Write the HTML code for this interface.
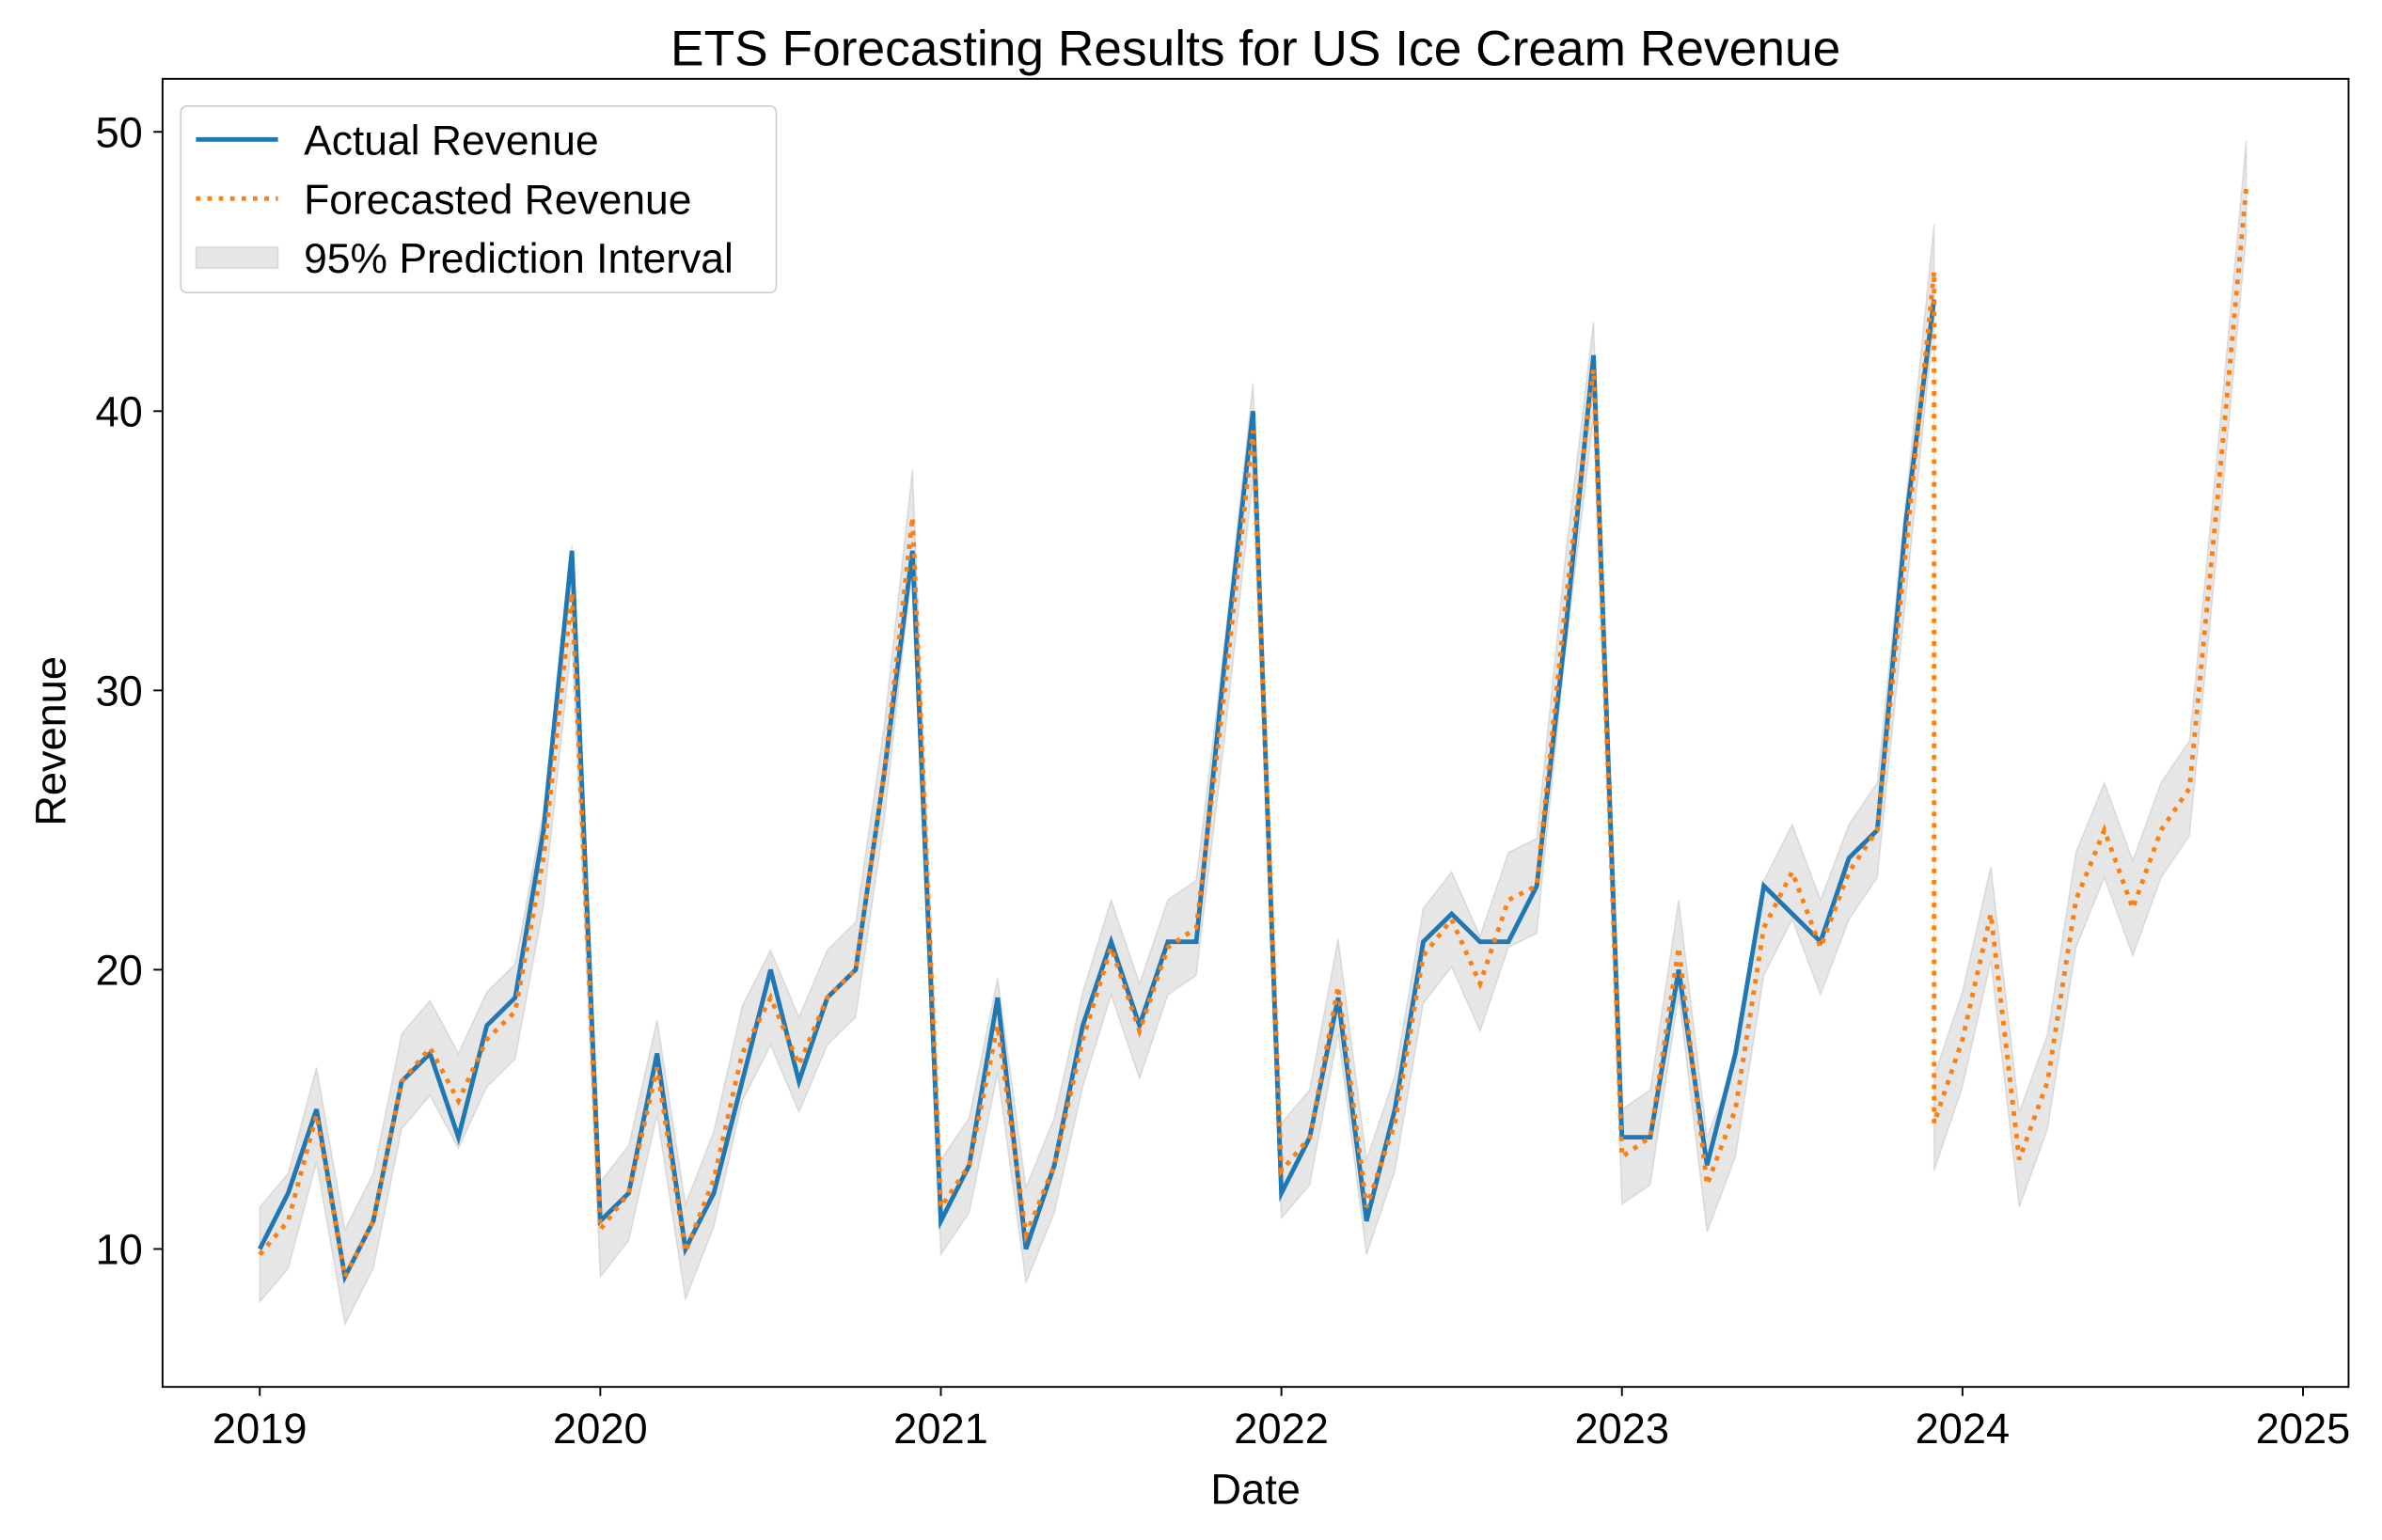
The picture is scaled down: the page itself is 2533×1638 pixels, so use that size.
<!DOCTYPE html>
<html><head><meta charset="utf-8"><style>
html,body{margin:0;padding:0;background:#fff;}
svg{display:block;font-family:"Liberation Sans","DejaVu Sans",sans-serif;}
</style></head><body>
<svg id="chart" width="2533" height="1638" viewBox="0 0 1568 1016" preserveAspectRatio="none" xmlns="http://www.w3.org/2000/svg">
<rect x="0" y="0" width="1568" height="1016" fill="#fff"/>
<g id="plot"></g>
</svg>
<script>
const years = [2019,2020,2021,2022,2023,2024,2025];
const yTicks = [10,20,30,40,50];
const actual = [10,12,15,9,11,16,17,14,18,19,25,35,
 11,12,17,10,12,16,20,16,19,20,27,35,
 11,13,19,10,13,18,21,18,21,21,31,40,
 12,14,19,11,15,21,22,21,21,23,32,42,
 14,14,20,13,17,23,22,21,24,25,36,44];
const fitted = [9.8,11,14.8,9,11,16,17.2,15.3,17.5,18.5,24,33.5,
 10.7,12,16.5,9.9,12.5,17,19,16.6,19,20,27,36.2,
 11.5,13,18,10.5,13,17.5,20.8,17.8,20.8,21.5,30,39.3,
 12.8,14,19.4,11.5,14.5,20.5,21.8,19.5,22.5,23,33,41.5,
 13.3,14,20.8,12.3,15,21.5,23.5,20.8,23.5,25,35,45];
const forecast = [14.5,17.5,22,13.2,16,22.5,25,22.2,25,26.5,37,48];
const forecastStart = 59;
const intervalHalfWidth = 1.7;

const NS="http://www.w3.org/2000/svg";
const L=107,R=1546,T=52,B=915;
function xm(i){return 171+i*(1516-171)/72;}
function yv(v){return 824-(v-10)*(824-87)/40;}
const g=document.getElementById('plot');
function mk(tag,attrs,parent){const e=document.createElementNS(NS,tag);for(const k in attrs)e.setAttribute(k,attrs[k]);(parent||g).appendChild(e);return e;}

const fpts=[];fitted.forEach((v,i)=>fpts.push([i,v]));forecast.forEach((v,j)=>fpts.push([forecastStart+j,v]));
let up=fpts.map(p=>xm(p[0])+','+yv(p[1]+intervalHalfWidth));
let lo=fpts.slice().reverse().map(p=>xm(p[0])+','+yv(p[1]-intervalHalfWidth));
const band=mk('polygon',{points:up.concat(lo).join(' '),fill:'#808080','fill-opacity':0.2,stroke:'#808080','stroke-opacity':0.2});



const act=mk('polyline',{points:actual.map((v,i)=>xm(i)+','+yv(v)).join(' '),fill:'none',stroke:'#1f77b4','stroke-width':3});


const fc=mk('polyline',{points:fpts.map(p=>xm(p[0])+','+yv(p[1])).join(' '),fill:'none',stroke:'#ff7f0e','stroke-width':3,'stroke-dasharray':'3,4.5'});



const frame=mk('rect',{x:L,y:T,width:R-L,height:B-T,fill:'none',stroke:'#000','stroke-width':1.2});



years.forEach((yr,k)=>{const x=xm(k*12);
 const t=mk('line',{x1:x,x2:x,y1:B,y2:B+6,stroke:'#000','stroke-width':1.2});
 
 
 const tx=mk('text',{x:x,y:B+37,'text-anchor':'middle','font-size':28});tx.textContent=yr;
 
 
});
yTicks.forEach(v=>{const y=yv(v);
 const t=mk('line',{x1:L-6,x2:L,y1:y,y2:y,stroke:'#000','stroke-width':1.2});
 
 
 const tx=mk('text',{x:L-13,y:y+10,'text-anchor':'end','font-size':28});tx.textContent=v;
 
 
});
const title=mk('text',{x:(L+R)/2,y:43,'text-anchor':'middle','font-size':33});title.textContent='ETS Forecasting Results for US Ice Cream Revenue';


const xl=mk('text',{x:(L+R)/2,y:992,'text-anchor':'middle','font-size':28});xl.textContent='Date';


const yl=mk('text',{x:0,y:0,'text-anchor':'middle','font-size':28,transform:'translate(43,489) rotate(-90)'});yl.textContent='Revenue';



const lg=mk('g',{});


mk('rect',{x:119,y:70,width:392,height:123,rx:4,fill:'#fff','fill-opacity':0.8,stroke:'#ccc'},lg);
mk('line',{x1:129,x2:183,y1:92,y2:92,stroke:'#1f77b4','stroke-width':3},lg);
mk('line',{x1:129,x2:183,y1:131,y2:131,stroke:'#ff7f0e','stroke-width':3,'stroke-dasharray':'3,4.5'},lg);
mk('rect',{x:129,y:163,width:54,height:14,fill:'#808080','fill-opacity':0.2,stroke:'#808080','stroke-opacity':0.2},lg);
[['Actual Revenue',102,'legend-entry-actual'],['Forecasted Revenue',141,'legend-entry-forecast'],['95% Prediction Interval',180,'legend-entry-interval']].forEach(a=>{
 const t=mk('text',{x:200,y:a[1],'font-size':27.5},lg);t.textContent=a[0];
 
 
});
</script>
</body></html>
